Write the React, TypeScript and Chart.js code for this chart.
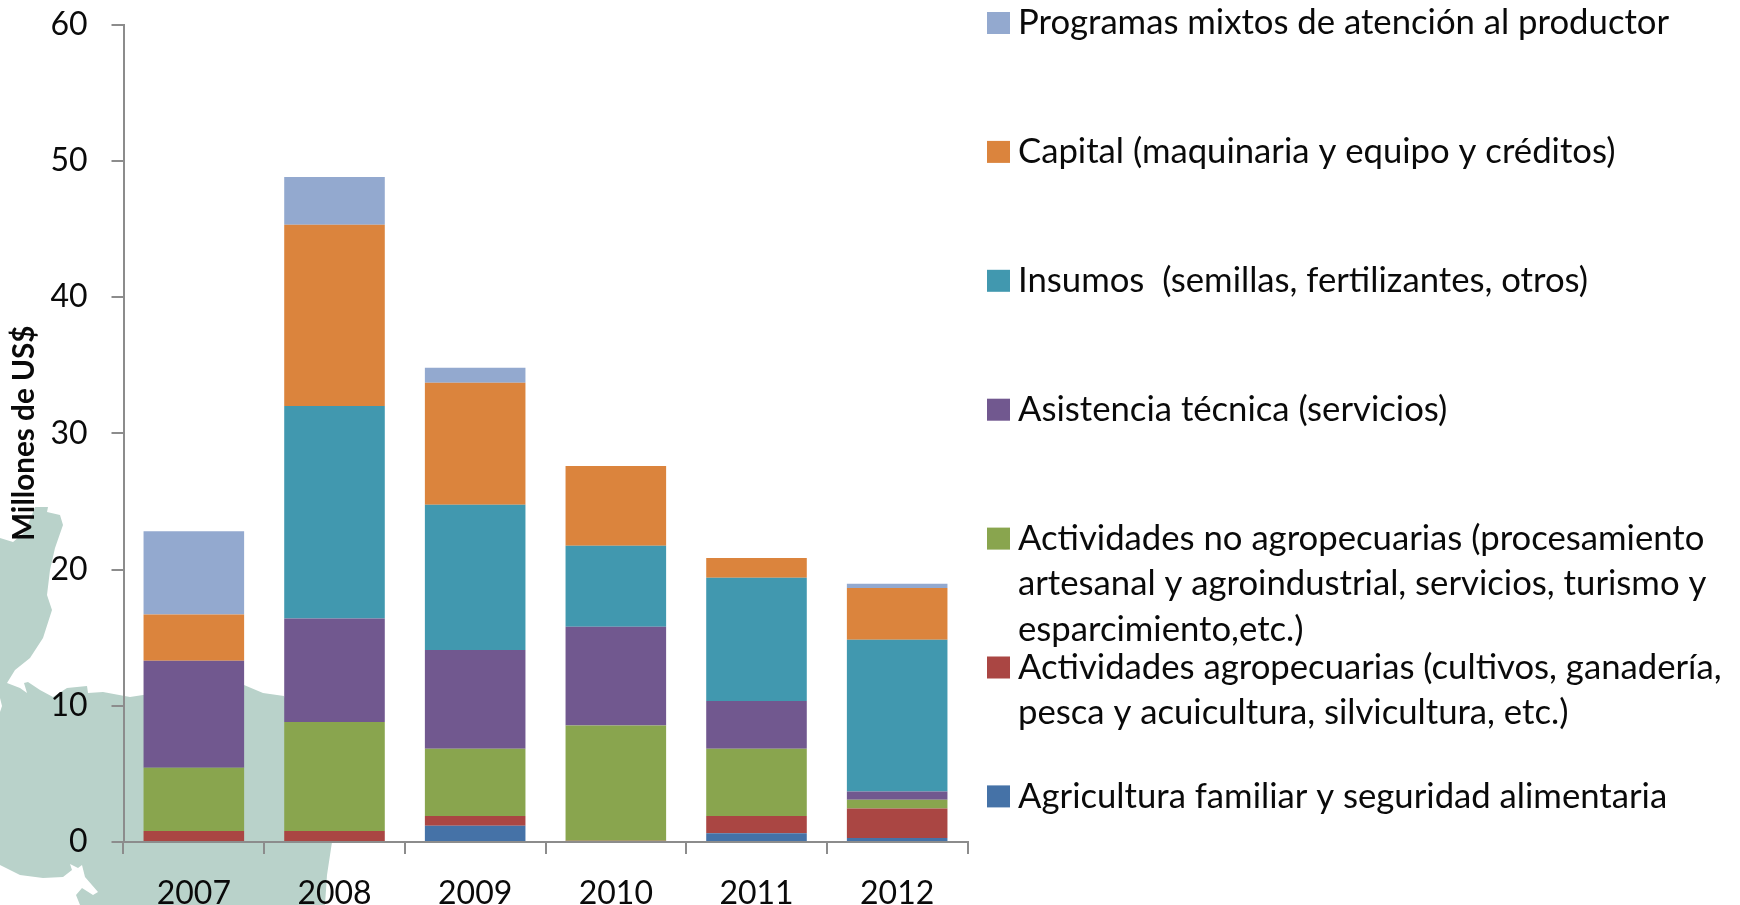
import React, { useEffect, useRef } from "react";
import { Chart, registerables } from "chart.js";

Chart.register(...registerables);

const years = ["2007", "2008", "2009", "2010", "2011", "2012"];
const agricultura = [0, 0, 1.2, 0, 0.65, 0.3];
const agropecuarias = [0.8, 0.8, 0.7, 0.1, 1.25, 2.15];
const noAgropecuarias = [4.65, 8.0, 4.95, 8.45, 4.95, 0.65];
const asistencia = [7.85, 7.6, 7.25, 7.25, 3.5, 0.6];
const insumos = [0, 15.6, 10.65, 5.95, 9.05, 11.15];
const capital = [3.4, 13.3, 8.95, 5.85, 1.45, 3.8];
const mixtos = [6.1, 3.5, 1.1, 0, 0, 0.3];

const legendLines: string[][] = [
  ["Agricultura familiar y seguridad alimentaria"],
  ["Actividades agropecuarias (cultivos, ganadería,", "pesca y acuicultura, silvicultura, etc.)"],
  ["Actividades no agropecuarias (procesamiento", "artesanal y agroindustrial, servicios, turismo y", "esparcimiento,etc.)"],
  ["Asistencia técnica (servicios)"],
  ["Insumos  (semillas, fertilizantes, otros)"],
  ["Capital (maquinaria y equipo y créditos)"],
  ["Programas mixtos de atención al productor"],
];
const seriesValues = [agricultura, agropecuarias, noAgropecuarias, asistencia, insumos, capital, mixtos];
const seriesColors = ["#4572A7", "#AA4643", "#89A54E", "#71588F", "#4198AF", "#DB843D", "#93A9CF"];

const FONT = "Lato, 'Open Sans', sans-serif";
const TEXT = "#0a0a0a";

const mapOutline: [number, number][] = [
  [0, 538], [13, 542], [25, 532], [35, 507], [48, 507], [47, 512], [60, 515], [63, 525], [55, 548], [50, 570],
  [47, 595], [52, 610], [43, 638], [30, 658], [15, 670], [7, 683], [20, 688], [27, 693], [24, 683], [28, 682],
  [40, 690], [53, 697], [67, 688], [87, 686], [88, 693], [103, 692], [130, 697], [143, 695], [244, 685], [263, 693],
  [284, 696], [320, 780], [332, 842], [327, 875], [325, 905], [80, 905], [76, 895], [82, 888], [93, 895], [98, 892],
  [85, 877], [82, 865], [78, 868], [70, 864], [72, 870], [63, 877], [43, 878], [20, 875], [0, 865], [0, 712], [2, 706], [0, 698],
];

const backdrop = {
  id: "backdrop",
  beforeDraw(chart: any) {
    const { ctx } = chart;
    ctx.save();
    ctx.fillStyle = "#B9D2CA";
    ctx.beginPath();
    mapOutline.forEach(([x, y], i) => (i ? ctx.lineTo(x, y) : ctx.moveTo(x, y)));
    ctx.closePath();
    ctx.fill();
    ctx.restore();
  },
};

const sideLegend = {
  id: "sideLegend",
  afterDraw(chart: any) {
    const { ctx } = chart;
    ctx.save();
    ctx.font = `34.7px ${FONT}`;
    ctx.textBaseline = "middle";
    ctx.textAlign = "left";
    chart.data.datasets.forEach((ds: any, i: number) => {
      const row = chart.data.datasets.length - 1 - i;
      const y = 23 + row * 128.9;
      ctx.fillStyle = ds.backgroundColor;
      ctx.fillRect(987, y - 11, 23, 22);
      ctx.fillStyle = TEXT;
      legendLines[i].forEach((line, k) => ctx.fillText(line, 1018, y + k * 45.6));
    });
    ctx.restore();
  },
};

export default function App() {
  const ref = useRef<HTMLCanvasElement>(null);
  useEffect(() => {
    const chart = new Chart(ref.current!, {
      type: "bar",
      data: {
        labels: years,
        datasets: seriesValues.map((data, i) => ({
          label: legendLines[i].join(" "),
          data,
          backgroundColor: seriesColors[i],
          categoryPercentage: 1,
          barPercentage: 0.715,
        })),
      },
      options: {
        animation: false,
        responsive: false,
        layout: { padding: { left: 0, top: 24.5, right: 772.5, bottom: 0 } },
        plugins: { legend: { display: false }, tooltip: { enabled: false } },
        scales: {
          x: {
            stacked: true,
            afterFit: (s: any) => { s.height = 63; s.paddingLeft = 0; s.paddingRight = 0; },
            grid: { drawOnChartArea: false, color: "#8C8C8C", lineWidth: 2, tickLength: 12 },
            border: { color: "#8C8C8C", width: 2 },
            ticks: { color: TEXT, font: { family: FONT, size: 32 }, padding: 20, maxRotation: 0 },
          },
          y: {
            stacked: true,
            min: 0,
            max: 60,
            afterFit: (s: any) => { s.width = 123.5; s.paddingTop = 0; s.paddingBottom = 0; },
            title: {
              display: true,
              text: "Millones de US$",
              color: TEXT,
              font: { family: FONT, size: 29.7, weight: "bold" },
              padding: { top: 7, bottom: 0 },
            },
            grid: { drawOnChartArea: false, color: "#8C8C8C", lineWidth: 2, tickLength: 12 },
            border: { color: "#8C8C8C", width: 2 },
            ticks: { stepSize: 10, color: TEXT, font: { family: FONT, size: 32 }, padding: 24 },
          },
        },
      },
      plugins: [backdrop, sideLegend],
    } as any);
    return () => chart.destroy();
  }, []);
  return (
    <div style={{ position: "absolute", left: 0, top: 0, width: 1740, height: 905, overflow: "hidden", background: "#fff" }}>
      <canvas ref={ref} width={1740} height={905} style={{ display: "block" }} />
    </div>
  );
}
